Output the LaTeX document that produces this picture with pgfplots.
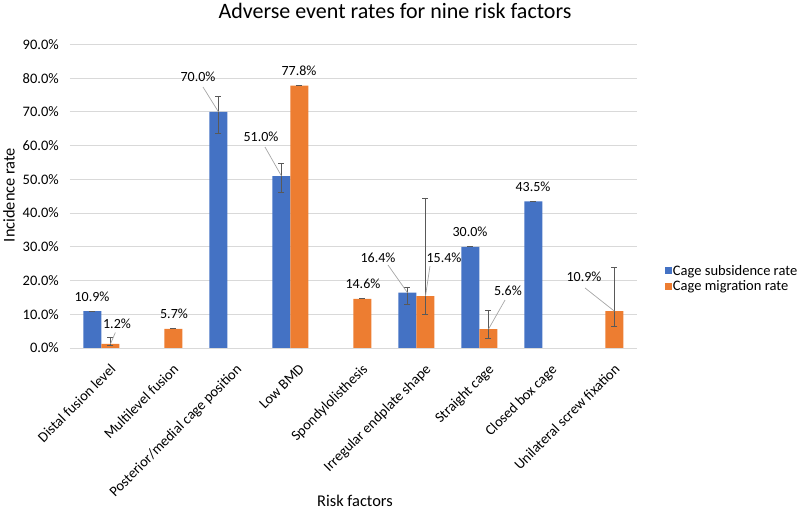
\documentclass[border=0pt]{standalone}
\usepackage{fontspec}
\setmainfont{Carlito}
\usepackage{pgfplots}
\pgfplotsset{compat=1.18}
\definecolor{cblue}{HTML}{4472C4}
\definecolor{corange}{HTML}{ED7D31}
\definecolor{gridc}{HTML}{D9D9D9}
\definecolor{errc}{HTML}{595959}
\definecolor{leadc}{HTML}{A6A6A6}
\newcommand\sm{\fontsize{14.5}{17}\selectfont}
\newcommand\lab{\fontsize{14}{16}\selectfont}
\begin{document}
\begin{tikzpicture}
\path[use as bounding box] (0,0) rectangle (798pt,511pt);
\begin{axis}[
  at={(70pt,163pt)}, anchor=south west,
  scale only axis, width=567pt, height=303.5pt,
  xmin=-0.5, xmax=8.5, ymin=0, ymax=90,
  enlargelimits=false, clip=false,
  ybar=0pt, bar width=18pt,
  /pgf/number format/assume math mode=true,
  axis x line*=bottom, axis y line*=left,
  x axis line style={draw=gridc, line width=0.9pt, -},
  y axis line style={draw=none},
  major tick length=0pt,
  ymajorgrids, grid style={draw=gridc, line width=0.9pt},
  ytick={0,10,...,90},
  yticklabel={\pgfmathprintnumber[fixed,fixed zerofill,precision=1]{\tick}\%},
  yticklabel style={font=\sm, anchor=east, xshift=-11pt, inner sep=0pt},
  xtick={0,...,8},
  xticklabels={Distal fusion level, Multilevel fusion, Posterior/medial cage position, Low BMD, Spondylolisthesis, Irregular endplate shape, Straight cage, Closed box cage, Unilateral screw fixation},
  xticklabel style={font=\sm, rotate=45, anchor=north east, inner sep=0pt, xshift=-5pt, yshift=-16pt},
  legend image code/.code={\fill[#1,draw=none] (0pt,-3.5pt) rectangle (7pt,3.5pt);},
  legend style={at={(1.049,0.229)}, anchor=west, draw=none, fill=none, font=\sm, inner sep=0pt, row sep=2pt,
    nodes={inner sep=1pt}},
  legend cell align=left,
  error bars/error bar style={color=errc, line width=0.8pt},
  error bars/error mark options={rotate=90, mark size=3pt, line width=0.8pt, color=errc},
]
\addplot+[fill=cblue, draw=none, error bars/.cd, y dir=both, y explicit]
coordinates {
 (0,10.9) +- (0,0)
 (2,70.0) += (0,4.6) -= (0,6.3)
 (3,51.0) += (0,3.6) -= (0,4.8)
 (5,16.4) += (0,1.7) -= (0,3.4)
 (6,30.0) +- (0,0)
 (7,43.5) +- (0,0)
};
\addlegendentry{Cage subsidence rate}
\addplot+[fill=corange, draw=none, error bars/.cd, y dir=both, y explicit]
coordinates {
 (0,1.2) += (0,2.0) -= (0,0.5)
 (1,5.7) +- (0,0)
 (3,77.8) +- (0,0)
 (4,14.6) +- (0,0)
 (5,15.4) += (0,29.1) -= (0,5.4)
 (6,5.6) += (0,5.6) -= (0,2.7)
 (8,10.9) += (0,13.0) -= (0,4.6)
};
\addlegendentry{Cage migration rate}
% leader lines
\draw[leadc, line width=0.7pt] (axis cs:0.143,1.2) -- (axis cs:0.22,4.6);
\draw[leadc, line width=0.7pt] (axis cs:1.611,77.4) -- (axis cs:1.857,70);
\draw[leadc, line width=0.7pt] (axis cs:2.595,59.6) -- (axis cs:2.857,51);
\draw[leadc, line width=0.7pt] (axis cs:4.548,24.6) -- (axis cs:4.857,16.4);
\draw[leadc, line width=0.7pt] (axis cs:5.214,24.3) -- (axis cs:5.143,15.4);
\draw[leadc, line width=0.7pt] (axis cs:6.405,14.2) -- (axis cs:6.143,5.6);
\draw[leadc, line width=0.7pt] (axis cs:7.675,17.8) -- (axis cs:8.143,10.9);
% data labels
\node[font=\lab, inner sep=0pt] at (axis cs:-0.151,15.2) {10.9\%};
\node[font=\lab, inner sep=0pt] at (axis cs:0.246,7.1) {1.2\%};
\node[font=\lab, inner sep=0pt] at (axis cs:1.151,10.1) {5.7\%};
\node[font=\lab, inner sep=0pt] at (axis cs:1.532,80.4) {70.0\%};
\node[font=\lab, inner sep=0pt] at (axis cs:2.532,62.6) {51.0\%};
\node[font=\lab, inner sep=0pt] at (axis cs:3.135,82.1) {77.8\%};
\node[font=\lab, inner sep=0pt] at (axis cs:4.15,19.0) {14.6\%};
\node[font=\lab, inner sep=0pt] at (axis cs:4.389,26.7) {16.4\%};
\node[font=\lab, inner sep=0pt] at (axis cs:5.437,26.7) {15.4\%};
\node[font=\lab, inner sep=0pt] at (axis cs:5.849,34.4) {30.0\%};
\node[font=\lab, inner sep=0pt] at (axis cs:6.452,16.9) {5.6\%};
\node[font=\lab, inner sep=0pt] at (axis cs:6.849,47.7) {43.5\%};
\node[font=\lab, inner sep=0pt] at (axis cs:7.659,21.1) {10.9\%};
\end{axis}
\node[anchor=base, font=\fontsize{22}{26}\selectfont, inner sep=0pt] at (395pt,492.7pt) {Adverse event rates for nine risk factors};
\node[anchor=base, font=\fontsize{16.4}{19}\selectfont, inner sep=0pt] at (355pt,4.5pt) {Risk factors};
\node[rotate=90, font=\fontsize{16.4}{19}\selectfont, inner sep=0pt] at (9pt,316pt) {Incidence rate};
\end{tikzpicture}
\end{document}
